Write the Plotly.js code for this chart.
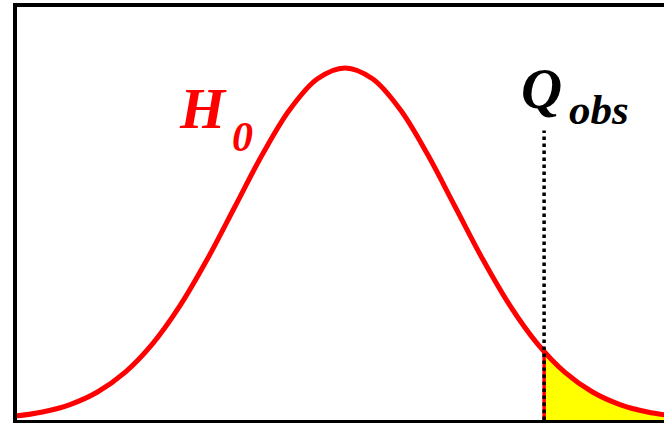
<!DOCTYPE html>
<html>
<head>
<meta charset="utf-8">
<script src="https://cdn.plot.ly/plotly-3.0.1.min.js"></script>
<style>
  html, body { margin: 0; padding: 0; background: #ffffff; }
  #chart { width: 664px; height: 423px; }
</style>
</head>
<body>
<div id="chart"></div>
<script>
// Null distribution of the test statistic (standardised units, peak scaled to 1)
const statValues = [-3.25, -3.0, -2.75, -2.5, -2.25, -2.0, -1.75, -1.5, -1.25, -1.0, -0.75, -0.5, -0.25,
                    0, 0.25, 0.5, 0.75, 1.0, 1.25, 1.5, 1.75, 2.0, 2.25, 2.5, 2.75, 3.0];
const density = [0.0051, 0.0111, 0.0228, 0.0439, 0.0796, 0.1353, 0.2163, 0.3247, 0.4578, 0.6065, 0.7548, 0.8825, 0.9692,
                 1.0, 0.9692, 0.8825, 0.7548, 0.6065, 0.4578, 0.3247, 0.2163, 0.1353, 0.0796, 0.0439, 0.0228, 0.0111];

// Observed statistic and the upper tail beyond it
const qObs = 1.81;
const qObsDensity = 0.194;
const tailValues = [1.81, 2.0, 2.25, 2.5, 2.75, 3.0];
const tailDensity = [0.194, 0.1353, 0.0796, 0.0439, 0.0228, 0.0111];
const markerTop = 0.822;

const RED = '#ff0000';

const traces = [
  {
    // shaded p-value region
    x: tailValues, y: tailDensity,
    type: 'scatter', mode: 'lines',
    line: { color: RED, width: 0, shape: 'spline' },
    fill: 'tozeroy', fillcolor: '#ffff00',
    hoverinfo: 'skip'
  },
  {
    // red edge of the shaded region
    x: [qObs, qObs], y: [0, qObsDensity],
    type: 'scatter', mode: 'lines',
    line: { color: RED, width: 3.5 },
    hoverinfo: 'skip'
  },
  {
    // H0 density curve
    x: statValues, y: density,
    type: 'scatter', mode: 'lines',
    line: { color: RED, width: 5, shape: 'spline' }
  },
  {
    // observed value marker
    x: [qObs, qObs], y: [0, markerTop],
    type: 'scatter', mode: 'lines',
    line: { color: '#000000', width: 3.5, dash: 'dot' },
    hoverinfo: 'skip'
  }
];

const serif = 'Liberation Serif';

const layout = {
  width: 664, height: 423,
  margin: { l: 15, r: 0, t: 0, b: 0, pad: 0 },
  paper_bgcolor: '#ffffff', plot_bgcolor: '#ffffff',
  showlegend: false,
  xaxis: { range: [-3.0, 2.9], visible: false, showgrid: false, zeroline: false, fixedrange: true },
  yaxis: { range: [-0.0085, 1.193], visible: false, showgrid: false, zeroline: false, fixedrange: true },
  shapes: [
    {
      type: 'rect', xref: 'paper', yref: 'paper',
      x0: 0, x1: 1.1, y0: 1 - 422 / 423, y1: 1 - 5 / 423,
      line: { color: '#000000', width: 4 }, fillcolor: 'rgba(0,0,0,0)', layer: 'above'
    }
  ],
  annotations: [
    {
      text: '<b><i>H</i></b>', xref: 'paper', yref: 'paper', x: 0.250, y: 0.661,
      xanchor: 'left', yanchor: 'bottom', showarrow: false,
      font: { family: serif, size: 58, color: RED }
    },
    {
      text: '<b><i>0</i></b>', xref: 'paper', yref: 'paper', x: 0.332, y: 0.617,
      xanchor: 'left', yanchor: 'bottom', showarrow: false,
      font: { family: serif, size: 42, color: RED }
    },
    {
      text: '<b><i>Q</i></b>', xref: 'paper', yref: 'paper', x: 0.777, y: 0.712,
      xanchor: 'left', yanchor: 'bottom', showarrow: false,
      font: { family: serif, size: 57, color: '#000000' }
    },
    {
      text: '<b><i>obs</i></b>', xref: 'paper', yref: 'paper', x: 0.851, y: 0.680,
      xanchor: 'left', yanchor: 'bottom', showarrow: false,
      font: { family: serif, size: 43, color: '#000000' }
    }
  ]
};

Plotly.newPlot('chart', traces, layout, { staticPlot: true, displayModeBar: false });
</script>
</body>
</html>
